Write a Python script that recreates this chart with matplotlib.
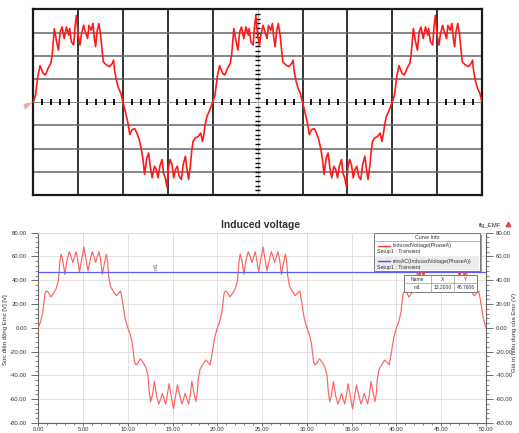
import numpy as np
import matplotlib
matplotlib.use("Agg")
import matplotlib.pyplot as plt
from matplotlib.patches import Rectangle, Polygon
from matplotlib.lines import Line2D

plt.rcParams["font.family"] = ["Liberation Sans", "DejaVu Sans"]

W, H = 519, 433

# --- measured scope trace, one period (divisions) ---------------------------
scope_x = [0.0, 0.05, 0.1, 0.15, 0.22, 0.27, 0.33, 0.39, 0.42, 0.47, 0.52, 0.56,
           0.6, 0.64, 0.69, 0.74, 0.79, 0.81, 0.85, 0.9, 0.93, 0.96, 1.0, 1.04,
           1.07, 1.12, 1.16, 1.21, 1.24, 1.29, 1.33, 1.36, 1.39, 1.42, 1.46, 1.5,
           1.53, 1.56, 1.63, 1.7, 1.76, 1.79, 1.81, 1.85, 1.9, 1.95,
           2.0, 2.05, 2.11, 2.15, 2.2, 2.26, 2.31, 2.36, 2.41, 2.45, 2.48, 2.53,
           2.57, 2.61, 2.65, 2.7, 2.74, 2.78, 2.82, 2.87, 2.9, 2.94, 2.98, 3.01,
           3.05, 3.09, 3.13, 3.17, 3.21, 3.25, 3.3, 3.34, 3.39, 3.42, 3.46, 3.5,
           3.53, 3.56, 3.61, 3.68, 3.73, 3.77, 3.8, 3.83, 3.87, 3.92]
scope_y = [0.0, 0.31, 1.1, 1.57, 1.24, 1.17, 1.46, 1.67, 2.03, 3.17, 2.6, 2.24,
           3.03, 3.24, 2.74, 3.24, 2.89, 3.17, 2.6, 2.46, 3.24, 3.74, 2.89, 2.46,
           2.89, 3.31, 3.03, 2.74, 3.31, 3.1, 3.39, 2.74, 2.39, 3.03, 3.39, 2.89,
           2.31, 1.74, 1.6, 1.53, 1.67, 1.81, 1.39, 0.96, 0.6, 0.39,
           0.0, -0.4, -0.9, -1.4, -1.19, -1.14, -1.33, -1.61, -2.04, -2.54, -3.11, -2.4,
           -2.19, -2.83, -3.26, -2.76, -2.9, -3.26, -2.76, -2.47, -3.04, -3.26, -3.66, -2.83,
           -2.47, -2.69, -3.26, -2.9, -2.76, -3.19, -3.33, -2.69, -2.33, -2.83, -3.33, -2.76,
           -2.11, -1.69, -1.54, -1.47, -1.33, -1.69, -1.4, -0.97, -0.61, -0.4]
scope_period = 4.0

# --- simulated induced voltage, positive half cycle (ms, V) -----------------
emf_t = [0.0, 0.25, 0.5, 0.75, 0.9, 1.1, 1.4, 1.7, 2.0, 2.25, 2.4, 2.55, 2.75, 2.96,
         3.2, 3.45, 3.66, 3.86, 4.05, 4.23, 4.42, 4.6, 4.85, 5.09, 5.32, 5.54,
         5.8, 6.03, 6.22, 6.4, 6.6, 6.78, 6.96, 7.15, 7.4, 7.6, 7.75, 7.85, 8.05, 8.35,
         8.7, 8.95, 9.2, 9.45, 9.7, 10.0]
emf_v = [0.0, 5.0, 13.0, 29.0, 31.0, 30.0, 26.0, 29.0, 33.0, 40.0, 55.0, 62.0, 56.0, 45.0,
         57.0, 64.0, 60.0, 55.0, 60.0, 64.0, 56.0, 47.0, 58.0, 68.0, 58.0, 48.0,
         57.0, 64.0, 60.0, 55.0, 60.0, 64.0, 57.0, 45.0, 55.0, 62.0, 55.0, 44.0, 35.0, 31.0,
         27.0, 29.0, 31.0, 20.0, 8.0, 0.0]
half_period = 10.0
n_half = 5
rms_value = 46.7606
marker_x = 13.2

legend_labels = ["InducedVoltage(PhaseA)", "rmsAC(InducedVoltage(PhaseA))"]
legend_setup = "Setup1 : Transient"


def fpx(x, y):
    """Figure pixel position -> figure fraction."""
    return x / W, 1 - y / H


fig = plt.figure(figsize=(W / 100, H / 100), dpi=100)

# ---------------------------------------------------------------------------
# Oscilloscope screen
# ---------------------------------------------------------------------------
ax_s = fig.add_axes([33.3 / W, 1 - 195 / H, 448.7 / W, 185.7 / H])
ax_s.set_xlim(0, 10)
ax_s.set_ylim(-4, 4)
ax_s.set_xticks([])
ax_s.set_yticks([])
for sp in ax_s.spines.values():
    sp.set_color("#1a1a1a")
    sp.set_linewidth(1.6)

for gx in [1, 2, 3, 4, 6, 7, 8, 9]:
    ax_s.axvline(gx, color="#222222", lw=1.3, zorder=1)
for gy in [-3, -2, -1, 1, 2, 3]:
    ax_s.axhline(gy, color="#666666", lw=1.1, zorder=1)

# centre axes with fine graduations
ax_s.axhline(0, color="#777777", lw=0.6, zorder=1)
ax_s.axvline(5, color="#999999", lw=0.5, zorder=1)
fine = np.round(np.arange(0, 10.01, 0.2), 2)
fine_x = [v for v in fine if abs(v - round(v)) > 1e-6]
ax_s.vlines(fine_x, -0.13, 0.13, color="black", lw=1.3, zorder=2)
fine_y = np.round(np.arange(-4, 4.01, 0.2), 2)
fine_y = [v for v in fine_y if abs(v) > 1e-6 and abs(abs(v) - 4) > 1e-6]
ax_s.hlines(fine_y, 4.95, 5.05, color="black", lw=1.0, zorder=2)

sx = np.asarray(scope_x)
sy = np.asarray(scope_y)
n_per = int(np.ceil(10 / scope_period))
trace_x = np.concatenate([sx + k * scope_period for k in range(n_per)] + [[10.0]])
trace_y = np.concatenate([sy for _ in range(n_per)] + [[0.0]])
keep = trace_x <= 10.0
ax_s.plot(trace_x[keep], trace_y[keep], color="#ff1a1a", lw=1.2, zorder=3)

# ground reference marker
fig.add_artist(Polygon([fpx(23.5, 104), fpx(33, 102), fpx(25, 110)],
                       closed=True, transform=fig.transFigure,
                       facecolor="#f7a5a5", edgecolor="none"))

# ---------------------------------------------------------------------------
# Induced voltage (Maxwell-style report)
# ---------------------------------------------------------------------------
ax = fig.add_axes([38.3 / W, 1 - 423 / H, 447.7 / W, 190.3 / H])
et = np.asarray(emf_t)
ev = np.asarray(emf_v)
t_all, v_all = [], []
for k in range(n_half):
    sign = 1 if k % 2 == 0 else -1
    start = 0 if k == 0 else 1
    t_all.append(et[start:] + k * half_period)
    v_all.append(sign * ev[start:])
t_all = np.concatenate(t_all)
v_all = np.concatenate(v_all)

ax.plot(t_all, v_all, color="#ff6262", lw=0.85, zorder=3,
        solid_joinstyle="round")
ax.axhline(rms_value, color="#5c5cff", lw=0.9, zorder=3)
ax.text(marker_x, rms_value + 1.5, "m1", rotation=90, fontsize=3.8,
        color="#555555", ha="center", va="bottom")

ax.set_xlim(0, 50)
ax.set_ylim(-80, 80)
ax.set_xticks(np.arange(0, 50.1, 5))
ax.set_xticks(np.arange(0, 50.1, 1), minor=True)
ax.set_yticks(np.arange(-80, 80.1, 20))
ax.set_yticks(np.arange(-80, 80.1, 4), minor=True)
ax.xaxis.set_major_formatter(matplotlib.ticker.FormatStrFormatter("%.2f"))
ax.yaxis.set_major_formatter(matplotlib.ticker.FormatStrFormatter("%.2f"))
ax.grid(True, which="major", color="#dcdcdc", lw=0.6)
ax.set_axisbelow(True)
ax.tick_params(axis="y", which="major", length=5, width=0.6, pad=3,
               labelsize=4.3, colors="#555555", labelcolor="#333333")
ax.tick_params(axis="y", which="minor", length=2.5, width=0.5, colors="#555555")
ax.tick_params(axis="x", which="major", length=2.0, width=0.6, pad=0.6,
               labelsize=4.2, colors="#555555", labelcolor="#333333")
ax.tick_params(axis="x", which="minor", length=1.3, width=0.5, colors="#555555")
for name in ["left", "bottom", "right"]:
    ax.spines[name].set_color("#666666")
    ax.spines[name].set_linewidth(0.8)
ax.spines["top"].set_color("#dcdcdc")
ax.spines["top"].set_linewidth(0.6)

ax_r = ax.twinx()
ax_r.set_ylim(-80, 80)
ax_r.set_yticks(np.arange(-80, 80.1, 20))
ax_r.set_yticks(np.arange(-80, 80.1, 4), minor=True)
ax_r.yaxis.set_major_formatter(matplotlib.ticker.FormatStrFormatter("%.2f"))
ax_r.tick_params(axis="y", which="major", length=5, width=0.6, pad=2,
                 labelsize=4.3, colors="#555555", labelcolor="#333333")
ax_r.tick_params(axis="y", which="minor", length=2.5, width=0.5, colors="#555555")
for sp in ax_r.spines.values():
    sp.set_visible(False)

fig.text(*fpx(261, 225), "Induced voltage", fontsize=7.5, fontweight="bold",
         color="#333333", ha="center", va="center")
fig.text(*fpx(6, 330), "Sức điện động Emc [V] [V]", fontsize=4.3, rotation=90,
         color="#333333", ha="center", va="center")
fig.text(*fpx(514, 333), "Giá trị hiệu dụng của Emc (V)", fontsize=4.3, rotation=90,
         color="#333333", ha="center", va="center")
fig.text(*fpx(490, 225), "flg_EMF", fontsize=4.3, color="#333333",
         ha="center", va="center")
fig.add_artist(Line2D([507.5 / W], [1 - 223.5 / H], marker="^", markersize=3.2,
                      color="#e04040", transform=fig.transFigure))

# curve info box
box = dict(transform=fig.transFigure)
x0, y0, x1, y1 = 374.3, 233.3, 480.0, 270.7
fig.add_artist(Rectangle(fpx(x0 + 1.5, y1 + 1.5), (x1 - x0) / W, (y1 - y0) / H,
                         facecolor="#9a9a9a", edgecolor="none", **box))
fig.add_artist(Rectangle(fpx(x0, y1), (x1 - x0) / W, (y1 - y0) / H,
                         facecolor="white", edgecolor="#7a7a7a", lw=0.7, **box))
fig.add_artist(Rectangle(fpx(x0 + 1, 269.5), (x1 - x0 - 2) / W, 13.5 / H,
                         facecolor="#ececec", edgecolor="none", **box))
fig.add_artist(Line2D([fpx(x0 + 1, 0)[0], fpx(x1 - 1, 0)[0]],
                      [1 - 240.8 / H] * 2, color="#9a9a9a", lw=0.5, **box))
fig.text(*fpx((x0 + x1) / 2, 237.3), "Curve Info", fontsize=3.8,
         color="#333333", ha="center", va="center")
for (yy, col, label) in [(246.0, "#ff3b3b", legend_labels[0]),
                         (261.0, "#4d4dff", legend_labels[1])]:
    fig.add_artist(Line2D([377.5 / W, 389.5 / W], [1 - yy / H] * 2,
                          color=col, lw=1.0, **box))
    fig.text(*fpx(392.7, yy), label, fontsize=3.8, color="#333333",
             ha="left", va="center")
    fig.text(*fpx(376.7, yy + 6.0), legend_setup, fontsize=3.8,
             color="#333333", ha="left", va="center")

# marker table
tx0, ty0, tx1, ty1 = 404.0, 275.0, 477.3, 291.7
fig.add_artist(Rectangle(fpx(tx0, ty1), (tx1 - tx0) / W, (ty1 - ty0) / H,
                         facecolor="white", edgecolor="#7a7a7a", lw=0.7, **box))
for cx in [430.7, 454.3]:
    fig.add_artist(Line2D([cx / W] * 2, [1 - ty0 / H, 1 - ty1 / H],
                          color="#9a9a9a", lw=0.5, **box))
fig.add_artist(Line2D([tx0 / W, tx1 / W], [1 - 283.3 / H] * 2,
                      color="#9a9a9a", lw=0.5, **box))
cols = [417.3, 442.5, 465.8]
for cx, head, val in zip(cols, ["Name", "X", "Y"],
                         ["m1", f"{marker_x:.4f}", f"{rms_value:.4f}"]):
    fig.text(*fpx(cx, 279.2), head, fontsize=3.6, color="#333333",
             ha="center", va="center")
    fig.text(*fpx(cx, 287.5), val, fontsize=3.6, color="#333333",
             ha="center", va="center")
for hx in [418.5, 422.5, 459.0, 463.5]:
    fig.add_artist(Line2D([hx / W], [1 - 273.0 / H], marker="s", markersize=1.2,
                          color="#e05050", lw=0, **box))

fig.savefig("out.png", dpi=100)
